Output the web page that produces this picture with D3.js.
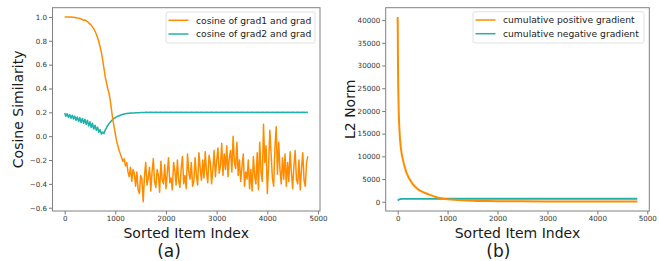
<!DOCTYPE html>
<html>
<head>
<meta charset="utf-8">
<script src="https://cdn.jsdelivr.net/npm/d3@7"></script>
<style>
  body { margin: 0; background: #fff; }
  svg { display: block; font-family: "DejaVu Sans", sans-serif; }
</style>
</head>
<body>
<svg id="chart" width="659" height="261"></svg>
<script>
// x of every point in the cosine series is its index times X_STEP
var X_STEP = 25;

// (a) cosine of grad1 and grad, one value per 25 items, 0..4800
var cosGrad1 = [
  1.0, 1.0, 1.0, 1.0, 0.999, 0.999, 0.998, 0.997,
  0.996, 0.994, 0.992, 0.99, 0.987, 0.983, 0.978, 0.972,
  0.975, 0.968, 0.96, 0.95, 0.94, 0.93, 0.915, 0.90,
  0.88, 0.855, 0.825, 0.79, 0.75, 0.70, 0.64, 0.57,
  0.50, 0.45, 0.40, 0.36, 0.30, 0.22, 0.14, 0.08,
  0.02, -0.04, -0.08, -0.12, -0.15, -0.18, -0.21, -0.19,
  -0.25, -0.22, -0.30, -0.34, -0.26, -0.38, -0.28, -0.31,
  -0.42, -0.30, -0.45, -0.48, -0.33, -0.36, -0.55, -0.34,
  -0.22, -0.41, -0.35, -0.26, -0.46, -0.30, -0.19, -0.38,
  -0.43, -0.28, -0.33, -0.47, -0.21, -0.37, -0.40, -0.24,
  -0.44, -0.31, -0.18, -0.39, -0.35, -0.45, -0.22, -0.29,
  -0.41, -0.20, -0.37, -0.43, -0.27, -0.17, -0.40, -0.33,
  -0.44, -0.15, -0.30, -0.36, -0.22, -0.42, -0.38, -0.18,
  -0.33, -0.41, -0.14, -0.27, -0.37, -0.20, -0.35, -0.13,
  -0.30, -0.39, -0.16, -0.22, -0.40, -0.28, -0.12, -0.34,
  -0.21, -0.10, -0.31, -0.25, -0.06, -0.33, -0.15, -0.28,
  -0.08, -0.34, -0.18, -0.12, -0.30, 0.0, -0.22, -0.27,
  -0.05, -0.33, -0.20, -0.38, -0.26, -0.15, -0.42, -0.30,
  -0.36, -0.20, -0.44, -0.28, -0.46, -0.17, -0.33, -0.40,
  -0.14, -0.45, -0.05, -0.30, -0.38, 0.10, -0.22, -0.08,
  -0.48, -0.25, 0.05, -0.15, -0.35, -0.42, -0.10, 0.08,
  -0.32, -0.05, -0.28, -0.40, -0.18, -0.36, -0.15, -0.42,
  -0.22, -0.38, -0.13, -0.30, -0.44, -0.25, -0.12, -0.36,
  -0.40, -0.20, -0.45, -0.27, -0.14, -0.37, -0.42, -0.22,
  -0.17
];

// (a) cosine of grad2 and grad, same spacing
var cosGrad2 = [
  0.195, 0.168, 0.188, 0.158, 0.18, 0.15, 0.175, 0.145,
  0.168, 0.133, 0.16, 0.124, 0.155, 0.115, 0.148, 0.108,
  0.142, 0.1, 0.132, 0.085, 0.12, 0.072, 0.108, 0.06,
  0.092, 0.05, 0.075, 0.033, 0.055, 0.018, 0.034, 0.022,
  0.05, 0.07, 0.09, 0.105, 0.118, 0.13, 0.14, 0.15,
  0.155, 0.162, 0.167, 0.172, 0.176, 0.18, 0.183, 0.186,
  0.188, 0.19, 0.191, 0.192, 0.193, 0.194, 0.195, 0.195,
  0.196, 0.196, 0.197, 0.197, 0.198, 0.198, 0.198, 0.199,
  0.2, 0.201, 0.199, 0.2, 0.201, 0.2, 0.199, 0.2,
  0.2, 0.201, 0.199, 0.2, 0.201, 0.2, 0.199, 0.2,
  0.2, 0.201, 0.199, 0.2, 0.201, 0.2, 0.199, 0.2,
  0.2, 0.201, 0.199, 0.2, 0.201, 0.2, 0.199, 0.2,
  0.2, 0.201, 0.199, 0.2, 0.201, 0.2, 0.199, 0.2,
  0.2, 0.201, 0.199, 0.2, 0.201, 0.2, 0.199, 0.2,
  0.2, 0.201, 0.199, 0.2, 0.201, 0.2, 0.199, 0.2,
  0.2, 0.201, 0.199, 0.2, 0.201, 0.2, 0.199, 0.2,
  0.2, 0.201, 0.199, 0.2, 0.201, 0.2, 0.199, 0.2,
  0.2, 0.201, 0.199, 0.2, 0.201, 0.2, 0.199, 0.2,
  0.2, 0.201, 0.199, 0.2, 0.201, 0.2, 0.199, 0.2,
  0.2, 0.201, 0.199, 0.2, 0.201, 0.2, 0.199, 0.2,
  0.2, 0.201, 0.199, 0.2, 0.201, 0.2, 0.199, 0.2,
  0.2, 0.201, 0.199, 0.2, 0.201, 0.2, 0.199, 0.2,
  0.2, 0.201, 0.199, 0.2, 0.201, 0.2, 0.199, 0.2,
  0.2, 0.201, 0.199, 0.2, 0.201, 0.2, 0.199, 0.2,
  0.2
];

// (b) cumulative gradients
var posIndex = [0, 5, 10, 20, 30, 45, 60, 80, 100, 125, 150, 180, 220, 260, 300, 350, 400, 450, 500, 600, 700, 800, 900, 1000, 1200, 1400, 1600, 1800, 2000, 2500, 3000, 3500, 4000, 4500, 4800];
var posNorm  = [40700, 32000, 26000, 20000, 17000, 14000, 12200, 10500, 9500, 8300, 7300, 6300, 5300, 4600, 3900, 3300, 2800, 2450, 2150, 1700, 1300, 950, 720, 560, 380, 260, 190, 140, 110, 85, 70, 60, 55, 50, 50];
var negIndex = [0, 30, 80, 150, 1000, 2000, 3000, 4000, 4800];
var negNorm  = [300, 520, 620, 650, 660, 660, 660, 665, 665];

var xTicks = [0, 1000, 2000, 3000, 4000, 5000];
var cosTicks = [-0.6, -0.4, -0.2, 0.0, 0.2, 0.4, 0.6, 0.8, 1.0];
var normTicks = [0, 5000, 10000, 15000, 20000, 25000, 30000, 35000, 40000];

var ORANGE = "#ff8c00";
var TEAL = "#20b2aa";

var svg = d3.select("#chart");
svg.append("rect").attr("width", 659).attr("height", 261).attr("fill", "#fff");

function drawPanel(p) {
	var x = d3.scaleLinear().domain([-240, 5040]).range([p.left, p.right]);
	var y = d3.scaleLinear().domain(p.yDomain).range([p.bottom, p.top]);

	var g = svg.append("g");

	g.append("clipPath").attr("id", p.id + "-clip")
		.append("rect")
		.attr("x", p.left).attr("y", p.top)
		.attr("width", p.right - p.left).attr("height", p.bottom - p.top);

	var plot = g.append("g").attr("clip-path", "url(#" + p.id + "-clip)");

	var line = d3.line()
		.x(d => x(d[0]))
		.y(d => y(d[1]));

	p.series.forEach(function (s) {
		plot.append("path")
			.datum(s.points)
			.attr("fill", "none")
			.attr("stroke", s.color)
			.attr("stroke-width", s.width)
			.attr("stroke-linejoin", "round")
			.attr("d", line);
	});

	var xAxis = g.append("g")
		.attr("transform", "translate(0," + p.bottom + ")")
		.call(d3.axisBottom(x).tickValues(xTicks).tickFormat(d3.format("d")).tickSizeOuter(0).tickSize(3.5).tickPadding(1.5));
	var yAxis = g.append("g")
		.attr("transform", "translate(" + p.left + ",0)")
		.call(d3.axisLeft(y).tickValues(p.yTicks).tickFormat(p.yFormat).tickSizeOuter(0).tickSize(3.5).tickPadding(2));

	[xAxis, yAxis].forEach(function (a) {
		a.select(".domain").remove();
		a.selectAll(".tick line").attr("stroke", "#555").attr("stroke-width", 0.8);
		a.selectAll(".tick text")
			.attr("fill", "#333")
			.style("font-size", "7.1px")
			.style("font-family", "DejaVu Sans");
	});

	g.append("rect")
		.attr("x", p.left).attr("y", p.top)
		.attr("width", p.right - p.left).attr("height", p.bottom - p.top)
		.attr("fill", "none")
		.attr("stroke", "#808080")
		.attr("stroke-width", 1);

	g.append("text")
		.attr("x", (p.left + p.right) / 2)
		.attr("y", 237.7)
		.attr("text-anchor", "middle")
		.style("font-size", "14px")
		.attr("fill", "#1a1a1a")
		.text("Sorted Item Index");

	g.append("text")
		.attr("transform", "translate(" + p.yLabelX + "," + ((p.top + p.bottom) / 2) + ") rotate(-90)")
		.attr("text-anchor", "middle")
		.style("font-size", "14px")
		.attr("fill", "#1a1a1a")
		.text(p.yLabel);

	g.append("text")
		.attr("x", p.captionX)
		.attr("y", 257)
		.attr("text-anchor", "middle")
		.style("font-size", "17px")
		.attr("fill", "#1a1a1a")
		.text(p.caption);

	// legend
	var lg = g.append("g");
	lg.append("rect")
		.attr("x", p.legend.x).attr("y", p.legend.y)
		.attr("width", p.legend.w).attr("height", p.legend.h)
		.attr("rx", 2)
		.attr("fill", "#fff").attr("fill-opacity", 0.8)
		.attr("stroke", "#d8d8d8").attr("stroke-width", 0.8);
	p.series.slice().reverse().forEach(function (s, i) {
		var ly = p.legend.y + 8.3 + i * 13.7;
		lg.append("line")
			.attr("x1", p.legend.x + 2.5).attr("x2", p.legend.x + 22.5)
			.attr("y1", ly).attr("y2", ly)
			.attr("stroke", s.color).attr("stroke-width", 1.5);
		lg.append("text")
			.attr("x", p.legend.x + 30)
			.attr("y", ly)
			.attr("dy", "0.35em")
			.style("font-size", "9.2px")
			.attr("fill", "#222")
			.text(s.name);
	});
}

var cos1Points = cosGrad1.map((v, i) => [i * X_STEP, v]);
var cos2Points = cosGrad2.map((v, i) => [i * X_STEP, v]);
var posPoints = posIndex.map((v, i) => [v, posNorm[i]]);
var negPoints = negIndex.map((v, i) => [v, negNorm[i]]);

drawPanel({
	id: "a",
	left: 52.5, right: 320, top: 7.7, bottom: 211,
	yDomain: [-0.6275, 1.0775],
	yTicks: cosTicks,
	yFormat: d3.format(".1f"),
	yLabel: "Cosine Similarity",
	yLabelX: 23.3,
	caption: "(a)",
	captionX: 169,
	legend: { x: 166, y: 12, w: 149, h: 31 },
	// drawn in this order; legend lists them reversed
	series: [
		{ name: "cosine of grad2 and grad", color: TEAL, width: 1.6, points: cos2Points },
		{ name: "cosine of grad1 and grad", color: ORANGE, width: 1.5, points: cos1Points }
	]
});

drawPanel({
	id: "b",
	left: 385.7, right: 649.3, top: 7.7, bottom: 211,
	yDomain: [-2035, 42735],
	yTicks: normTicks,
	yFormat: d3.format("d"),
	yLabel: "L2 Norm",
	yLabelX: 355,
	caption: "(b)",
	captionX: 498.3,
	legend: { x: 473, y: 11.7, w: 171, h: 31.3 },
	series: [
		{ name: "cumulative negative gradient", color: TEAL, width: 1.8, points: negPoints },
		{ name: "cumulative positive gradient", color: ORANGE, width: 2, points: posPoints }
	]
});
</script>
</body>
</html>
